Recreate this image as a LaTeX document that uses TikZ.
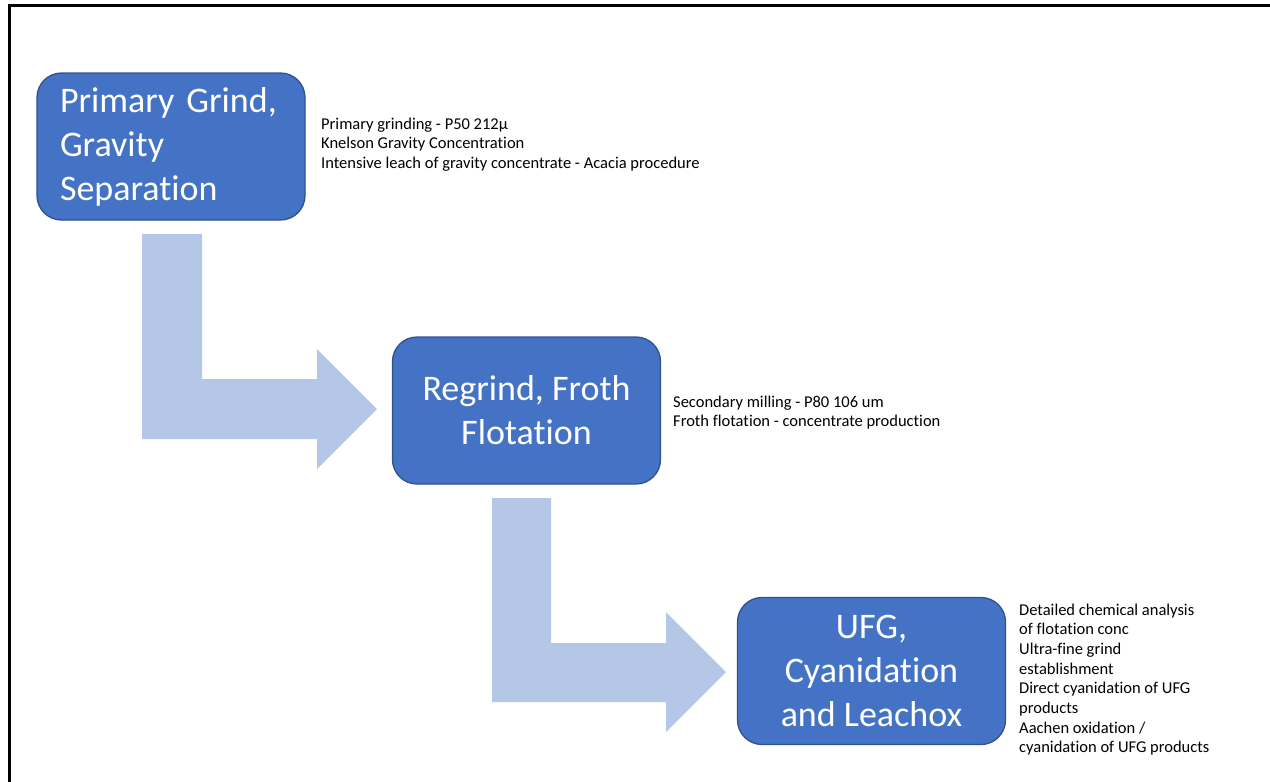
\documentclass[tikz,border=0pt]{standalone}
\usepackage{fontspec}
\setmainfont[Ligatures=NoCommon]{Carlito}
\definecolor{boxfill}{HTML}{4472C4}
\definecolor{boxline}{HTML}{2F528F}
\definecolor{arrowfill}{HTML}{B4C7E7}
\begin{document}
\begin{tikzpicture}[x=1pt,y=-1pt,
  stage/.style={draw=boxline, line width=1.3pt, fill=boxfill, rounded corners=24.5pt,
    minimum width=268pt, minimum height=147pt, inner sep=0pt, text=white,
    font=\fontsize{36}{44}\selectfont},
  bentarrow/.style={fill=arrowfill, draw=none},
  note/.style={anchor=base west, inner sep=0pt, font=\fontsize{16.5}{19.6}\selectfont},
  frame/.style={draw=black, line width=2.5pt}]
\useasboundingbox (0,0) rectangle (1270,782);
\draw[frame] (9.5,790) -- (9.5,5.3) -- (1280,5.3);

% bent arrows (shapes)
\fill[bentarrow] (142,234) -- (202,234) -- (202,379) -- (317,379) -- (317,349)
  -- (377,409) -- (317,469) -- (317,439) -- (142,439) -- cycle;
\fill[bentarrow] (492,498) -- (551,498) -- (551,643) -- (666,643) -- (666,612)
  -- (726,672) -- (666,732) -- (666,702) -- (492,702) -- cycle;

% stages
\node[stage, text width=222pt, align=left] (b1) at (171,146.5)
  {Primary Grind,\\Gravity\\Separation};
\node[stage, align=center] (b2) at (526.5,410.5) {Regrind, Froth\\Flotation};
\node[stage, align=center] (b3) at (871.5,671) {UFG,\\Cyanidation\\and Leachox};

% notes
\node[note] (n1) at (321,129) {\vtop{\baselineskip=19.6pt
  \hbox{Primary grinding - P50 212µ}
  \hbox{Knelson Gravity Concentration}
  \hbox{Intensive leach of gravity concentrate - Acacia procedure}}};
\node[note] (n2) at (673,407) {\vtop{\baselineskip=19.6pt
  \hbox{Secondary milling - P80 106 um}
  \hbox{Froth flotation - concentrate production}}};
\node[note] (n3) at (1019,615) {\vtop{\baselineskip=19.7pt
  \hbox{Detailed chemical analysis}
  \hbox{of flotation conc}
  \hbox{Ultra-fine grind}
  \hbox{establishment}
  \hbox{Direct cyanidation of UFG}
  \hbox{products}
  \hbox{Aachen oxidation /}
  \hbox{cyanidation of UFG products}}};
\end{tikzpicture}
\end{document}
